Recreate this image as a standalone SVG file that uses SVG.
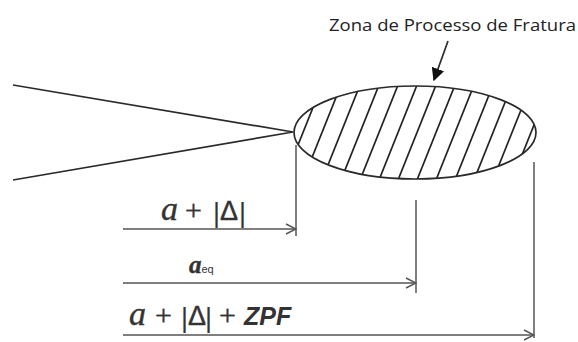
<svg xmlns="http://www.w3.org/2000/svg" width="578" height="342" viewBox="0 0 578 342">
<style>
.ln{stroke:#2a2a2a;stroke-width:1.7;fill:none}
.dim{stroke:#555;stroke-width:1.5;fill:none}
.hatch{stroke:#222;stroke-width:1.7}
.lbl{font-family:"Liberation Serif",serif;fill:#333;stroke:#333;stroke-width:0.4}
.a{font-style:italic;font-size:34px}
.pl{font-size:30px}
.bar{font-family:"Liberation Sans",sans-serif;font-size:27px;stroke-width:0}
.dl{font-family:"Liberation Sans",sans-serif;font-size:27px}
</style>
<defs>
<marker id="open" viewBox="0 0 12 12" refX="11" refY="6" markerWidth="12" markerHeight="12" markerUnits="userSpaceOnUse" orient="auto">
<path d="M1,1 L11,6 L1,11" fill="none" stroke="#555" stroke-width="1.5"/>
</marker>
<marker id="solid" viewBox="0 0 10 10" refX="9" refY="5" markerWidth="13" markerHeight="13" markerUnits="userSpaceOnUse" orient="auto">
<path d="M0,0 L10,5 L0,10 Z" fill="#111"/>
</marker>
<clipPath id="ec"><ellipse cx="415" cy="132.5" rx="121" ry="46.5"/></clipPath>
</defs>
<rect width="578" height="342" fill="#fff"/>
<g id="crack">
<path class="ln" d="M13,85 L293,132 L13,180"/>
</g>
<g id="fpz">
<g clip-path="url(#ec)" class="hatch">
<line x1="265" y1="180" x2="303" y2="85"/>
<line x1="284" y1="180" x2="322" y2="85"/>
<line x1="303" y1="180" x2="341" y2="85"/>
<line x1="322" y1="180" x2="360" y2="85"/>
<line x1="341" y1="180" x2="379" y2="85"/>
<line x1="360" y1="180" x2="398" y2="85"/>
<line x1="379" y1="180" x2="417" y2="85"/>
<line x1="398" y1="180" x2="436" y2="85"/>
<line x1="417" y1="180" x2="455" y2="85"/>
<line x1="436" y1="180" x2="474" y2="85"/>
<line x1="455" y1="180" x2="493" y2="85"/>
<line x1="474" y1="180" x2="512" y2="85"/>
<line x1="493" y1="180" x2="531" y2="85"/>
<line x1="512" y1="180" x2="550" y2="85"/>
</g>
<ellipse class="ln" cx="415" cy="132.5" rx="121" ry="46.5"/>
</g>
<g id="title">
<text x="329" y="31" font-family="'Open Sans','Liberation Sans',sans-serif" font-size="16" fill="#222" textLength="247" lengthAdjust="spacingAndGlyphs">Zona de Processo de Fratura</text>
</g>
<g id="connectors">
<line class="ln" x1="448" y1="41" x2="434" y2="80" marker-end="url(#solid)"/>
<line class="dim" x1="296" y1="145" x2="296" y2="236"/>
<line class="dim" x1="416" y1="200" x2="416" y2="293"/>
<line class="dim" x1="534" y1="162" x2="534" y2="338"/>
<line class="dim" x1="123" y1="229" x2="296" y2="229" marker-end="url(#open)"/>
<line class="dim" x1="123" y1="283" x2="416" y2="283" marker-end="url(#open)"/>
<line class="dim" x1="123" y1="335" x2="534" y2="335" marker-end="url(#open)"/>
</g>
<g id="labels">
<text class="lbl" y="220"><tspan class="a" x="161">a</tspan><tspan class="pl" x="185">+</tspan><tspan class="bar" x="213" y="222">|</tspan><tspan class="dl" x="220" y="220">Δ</tspan><tspan class="bar" x="239" y="222">|</tspan></text>
<text class="lbl" x="189" y="273"><tspan font-style="italic" font-weight="bold" font-size="25">a</tspan><tspan font-size="11" stroke-width="0" font-family="'Liberation Sans',sans-serif">eq</tspan></text>
<text class="lbl" y="325"><tspan class="a" x="129">a</tspan><tspan class="pl" x="155">+</tspan><tspan class="bar" x="181" y="327">|</tspan><tspan class="dl" x="188" y="325" font-size="25">Δ</tspan><tspan class="bar" x="205" y="327">|</tspan><tspan class="pl" x="219" y="325">+</tspan><tspan x="244" font-family="'Liberation Sans',sans-serif" font-style="italic" font-weight="bold" font-size="25" stroke-width="0">ZPF</tspan></text>
</g>
</svg>
